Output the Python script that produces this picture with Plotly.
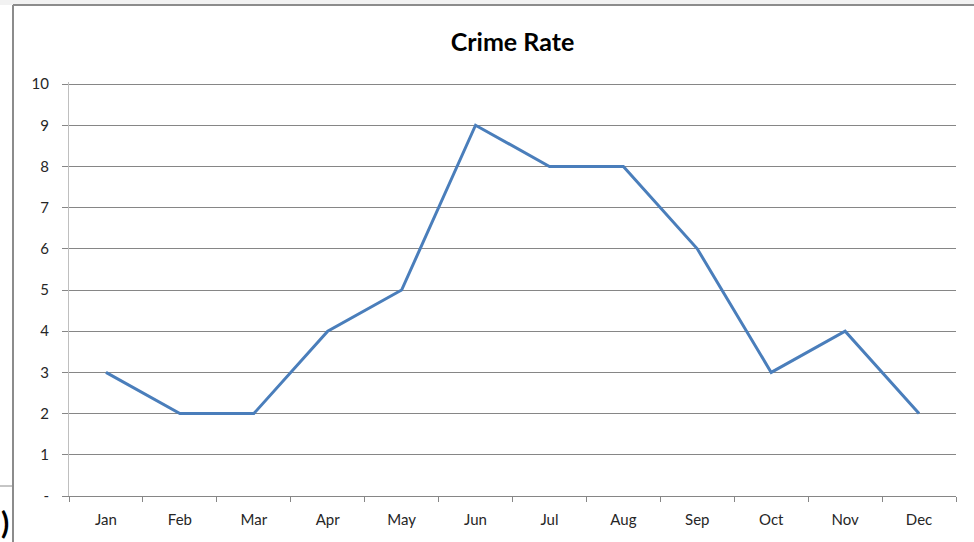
import plotly.graph_objects as go

months = ["Jan", "Feb", "Mar", "Apr", "May", "Jun", "Jul", "Aug", "Sep", "Oct", "Nov", "Dec"]
crime_rate = [3, 2, 2, 4, 5, 9, 8, 8, 6, 3, 4, 2]
y_tick_vals = [0, 1, 2, 3, 4, 5, 6, 7, 8, 9, 10]
y_tick_text = ["-", "1", "2", "3", "4", "5", "6", "7", "8", "9", "10"]

W, H = 974, 542
L, R, T, B = 69, 18, 82, 46
pw, ph = W - L - R, H - T - B

def px(x):
    return (x - L) / pw

def py(y):
    return (H - B - y) / ph

fig = go.Figure()
fig.add_trace(go.Scatter(
    x=months, y=crime_rate, mode="lines",
    line=dict(color="#4A7EBB", width=3),
    hoverinfo="x+y", showlegend=False,
))

shapes = [
    # light strip at top
    dict(type="rect", xref="paper", yref="paper", x0=px(0), x1=px(W), y0=py(5), y1=py(0),
         fillcolor="#F2F2F2", line=dict(width=0), layer="below"),
    # chart frame left/top border
    dict(type="line", xref="paper", yref="paper", x0=px(13), x1=px(13), y0=py(5), y1=py(H),
         line=dict(color="#8C8C8C", width=2)),
    dict(type="line", xref="paper", yref="paper", x0=px(13), x1=px(W), y0=py(5), y1=py(5),
         line=dict(color="#8C8C8C", width=2)),
    # fragment line at bottom left
    dict(type="line", xref="paper", yref="paper", x0=px(0), x1=px(13), y0=py(486), y1=py(486),
         line=dict(color="#8C8C8C", width=1)),
]

fig.update_layout(
    width=W, height=H,
    margin=dict(l=L, r=R, t=T, b=B),
    paper_bgcolor="white", plot_bgcolor="white",
    title=dict(text="<b>Crime Rate</b>", x=0.5, xanchor="center", xref="paper",
               y=1 - 42 / H, yanchor="middle",
               font=dict(family="Lato, Open Sans, sans-serif", size=25, color="#000000")),
    font=dict(family="Lato, Open Sans, sans-serif", size=15, color="#262626"),
    shapes=shapes,
    annotations=[dict(text="<b>)</b>", xref="paper", yref="paper", x=px(5), y=py(522),
                      xanchor="center", yanchor="middle", showarrow=False,
                      font=dict(family="Lato, sans-serif", size=30, color="#000000"))],
    xaxis=dict(
        type="category", range=[-0.5, 11.5],
        showgrid=False, showline=True, linecolor="#868686", linewidth=1,
        ticks="outside", tickson="boundaries", ticklen=5, tickcolor="#868686",
        ticklabelstandoff=10,
        tickfont=dict(size=15, color="#262626"), fixedrange=True,
    ),
    yaxis=dict(
        range=[0, 10.05], tickvals=y_tick_vals, ticktext=y_tick_text,
        showgrid=True, gridcolor="#868686", gridwidth=1,
        showline=True, linecolor="#BFBFBF", linewidth=1,
        ticks="outside", ticklen=6, tickcolor="#868686",
        ticklabelstandoff=10,
        tickfont=dict(size=15, color="#262626"), zeroline=False, fixedrange=True,
    ),
)

fig.write_html("out.html")
